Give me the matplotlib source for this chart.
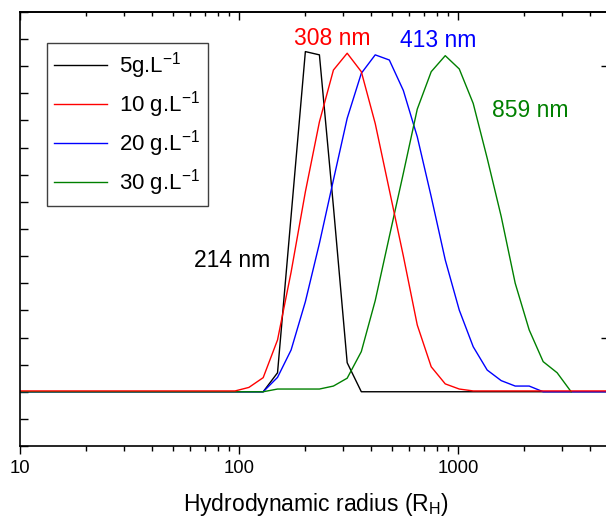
import matplotlib
matplotlib.use("Agg")
import matplotlib.pyplot as plt
from matplotlib.ticker import LogLocator, NullFormatter

plt.rcParams['font.family'] = ['Liberation Sans', 'DejaVu Sans']
plt.rcParams['mathtext.fontset'] = 'custom'
plt.rcParams['mathtext.rm'] = 'Liberation Sans'
plt.rcParams['mathtext.it'] = 'Liberation Sans:italic'

# size distributions (intensity in arbitrary units)
black_x = [10, 129, 150, 173, 201, 233, 270, 312, 362, 5000]
black_y = [0, 0, 0.70, 6.48, 12.54, 12.42, 6.82, 1.07, 0, 0]

red_x = [10, 96, 111, 129, 150, 173, 201, 233, 270, 312, 362, 419, 486, 563,
         652, 755, 875, 1014, 1174, 5000]
red_y = [0.03, 0.03, 0.16, 0.52, 1.91, 4.41, 7.37, 9.95, 11.86, 12.48, 11.80,
         9.89, 7.44, 5.01, 2.46, 0.92, 0.29, 0.10, 0.03, 0.03]

blue_x = [10, 129, 150, 173, 201, 233, 270, 312, 362, 419, 486, 563, 652, 755,
          875, 1014, 1174, 1360, 1576, 1826, 2115, 2450, 5000]
blue_y = [0, 0, 0.53, 1.54, 3.32, 5.47, 7.81, 10.08, 11.74, 12.42, 12.23, 11.11,
          9.40, 7.19, 4.86, 3.01, 1.66, 0.80, 0.41, 0.21, 0.21, 0, 0]

green_x = [10, 129, 150, 173, 201, 233, 270, 312, 362, 419, 486, 563, 652, 755,
           875, 1014, 1174, 1360, 1576, 1826, 2115, 2450, 2838, 3288]
green_y = [0, 0, 0.10, 0.10, 0.10, 0.10, 0.21, 0.50, 1.48, 3.36, 5.72, 8.05,
           10.42, 11.80, 12.39, 11.90, 10.63, 8.61, 6.46, 4.00, 2.28, 1.11, 0.70, 0]

labels = ['5g.L$^{-1}$', '10 g.L$^{-1}$', '20 g.L$^{-1}$', '30 g.L$^{-1}$']
peak_text = ['214 nm', '308 nm', '413 nm', '859 nm']
peak_pos = [(92.6, 4.61), (268, 12.78), (812, 12.71), (2133, 10.12)]

fig = plt.figure(figsize=(6.06, 5.2), dpi=100)
ax = fig.add_axes([20 / 606, 74 / 520, 591 / 606, 434 / 520])

l_black, = ax.plot(black_x, black_y, color='black', lw=1.0)
l_blue, = ax.plot(blue_x, blue_y, color='#0000ff', lw=1.0)
l_green, = ax.plot(green_x, green_y, color='#008000', lw=1.0)
l_red, = ax.plot(red_x, red_y, color='#ff0000', lw=1.0)

ax.set_xscale('log')
ax.set_xlim(10, 5000)
ax.set_ylim(-2, 14)

ax.set_xticks([10, 100, 1000])
ax.set_xticklabels(['10', '100', '1000'])
ax.xaxis.set_minor_locator(LogLocator(base=10, subs=range(2, 10)))
ax.xaxis.set_minor_formatter(NullFormatter())
ax.tick_params(axis='x', which='major', direction='out', length=6, width=1.0,
               labelsize=13.3, pad=4)
ax.tick_params(axis='x', which='minor', direction='out', length=3.5, width=1.0)

ax.set_yticks(range(-2, 15))
ax.tick_params(axis='y', direction='in', length=6, width=1.0, labelleft=False)

top = ax.secondary_xaxis('top')
top.set_xticks([10, 100, 1000])
top.xaxis.set_minor_locator(LogLocator(base=10, subs=range(2, 10)))
top.xaxis.set_minor_formatter(NullFormatter())
top.tick_params(axis='x', which='major', direction='in', length=6, width=1.0,
                labeltop=False)
top.tick_params(axis='x', which='minor', direction='in', length=3, width=1.0)

right = ax.secondary_yaxis('right')
right.set_yticks([2, 12])
right.tick_params(axis='y', direction='in', length=7, width=1.0, labelright=False)

for sp in list(ax.spines.values()) + [top.spines['top'], right.spines['right']]:
    sp.set_linewidth(1.2)

ax.set_xlabel('Hydrodynamic radius (R$\\mathregular{_H}$)', fontsize=16.5,
              labelpad=10)

colors = ['black', '#ff0000', '#0000ff', '#008000']
for txt, (px, py), c in zip(peak_text, peak_pos, colors):
    ax.text(px, py, txt, color=c, fontsize=16.5, ha='center', va='baseline')

leg = ax.legend([l_black, l_red, l_blue, l_green], labels, loc='upper left',
                bbox_to_anchor=(0.0452, 0.9293), borderaxespad=0,
                fontsize=16, handlelength=2.35, handletextpad=0.55,
                labelspacing=0.36, borderpad=0.35, fancybox=False,
                edgecolor='#404040', framealpha=1)
leg.get_frame().set_linewidth(1.0)

fig.savefig('out.png', dpi=100)
